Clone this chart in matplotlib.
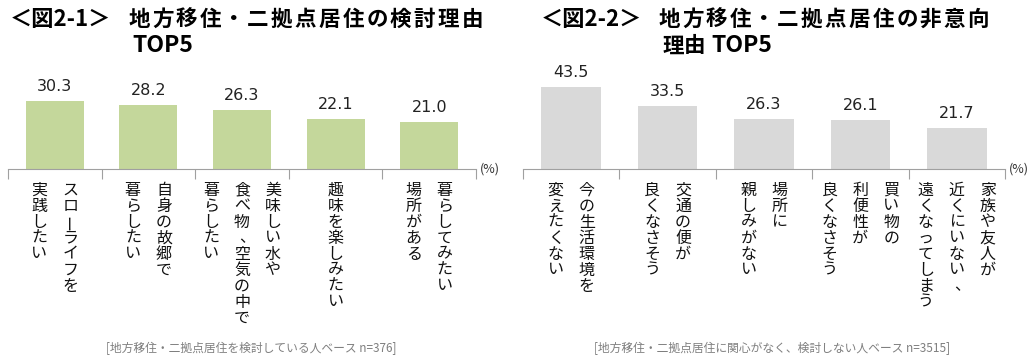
import numpy as np
import matplotlib
matplotlib.use("Agg")
import matplotlib.pyplot as plt

plt.rcParams['font.family'] = ['Noto Sans CJK JP', 'DejaVu Sans']

# Data
left_prefix = "＜図2-1＞"
left_title1 = "地方移住・二拠点居住の検討理由"
left_title2 = ["", "TOP5"]
left_values = [30.3, 28.2, 26.3, 22.1, 21.0]
left_labels = [
    ["スローライフを", "実践したい"],
    ["自身の故郷で", "暮らしたい"],
    ["美味しい水や", "食べ物、空気の中で", "暮らしたい"],
    ["趣味を楽しみたい"],
    ["暮らしてみたい", "場所がある"],
]
left_note = "[地方移住・二拠点居住を検討している人ベース n=376]"

right_prefix = "＜図2-2＞"
right_title1 = "地方移住・二拠点居住の非意向"
right_title2 = ["理由", "TOP5"]
right_values = [43.5, 33.5, 26.3, 26.1, 21.7]
right_labels = [
    ["今の生活環境を", "変えたくない"],
    ["交通の便が", "良くなさそう"],
    ["場所に", "親しみがない"],
    ["買い物の", "利便性が", "良くなさそう"],
    ["家族や友人が", "近くにいない、", "遠くなってしまう"],
]
right_note = "[地方移住・二拠点居住に関心がなく、検討しない人ベース n=3515]"

W, H = 1032, 356
fig = plt.figure(figsize=(W / 100, H / 100), dpi=100)


def vertical_labels(ax, labels):
    col_gap = 31
    pitch = 16
    for i, cols in enumerate(labels):
        n = len(cols)
        for j, col in enumerate(cols):
            dx = (n - 1) / 2 * col_gap - j * col_gap
            for k, ch in enumerate(col):
                x_off, y_off, rot = dx, -21 - k * pitch, 0
                if ch == "ー":
                    rot = 90
                elif ch == "、":
                    x_off += 5
                ax.annotate(ch, xy=(i, 0), xycoords="data",
                            xytext=(x_off, y_off), textcoords="offset pixels",
                            ha="center", va="center", fontsize=11.5,
                            rotation=rot, color="#111111", annotation_clip=False)


def spaced_text(x0, y, s, pitch, size=15.5):
    # draw full-width title characters one by one with wider spacing
    for k, ch in enumerate(s):
        fig.text((x0 + pitch / 2 + k * pitch) / W, 1 - y / H, ch, fontsize=size,
                 fontweight="bold", ha="center", va="center")


def panel(rect, values, labels, color, ymax, prefix, t1, t2, tx, bx, t2x, note, note_x):
    ax = fig.add_axes(rect)
    x = np.arange(len(values))
    ax.bar(x, values, width=0.62, color=color)
    ax.set_xlim(-0.5, len(values) - 0.5)
    ax.set_ylim(0, ymax)
    for s in ["top", "right", "left"]:
        ax.spines[s].set_visible(False)
    ax.spines["bottom"].set_color("#a0a0a0")
    ax.set_yticks([])
    ax.set_xticks(np.arange(-0.5, len(values), 1))
    ax.set_xticklabels([])
    ax.tick_params(axis="x", length=7, color="#a0a0a0", direction="out")
    for xi, v in zip(x, values):
        ax.annotate(f"{v:.1f}", xy=(xi, v), xytext=(0, 7), textcoords="offset pixels",
                    ha="center", va="bottom", fontsize=11.5, color="#222222",
                    family="DejaVu Sans")
    ax.annotate("(%)", xy=(1, 0), xycoords="axes fraction", xytext=(4, 0),
                textcoords="offset pixels", ha="left", va="center", fontsize=9,
                color="#333333", annotation_clip=False)
    vertical_labels(ax, labels)
    fig.text(tx / W, 1 - 19 / H, prefix, fontsize=16, fontweight="bold", ha="left", va="center")
    spaced_text(bx, 19, t1, 23.8)
    spaced_text(t2x, 46, t2[0], 21)
    fig.text((t2x + 21 * len(t2[0]) + (6 if t2[0] else 0)) / W, 1 - 46 / H, t2[1],
             fontsize=16.5, fontweight="bold", ha="left", va="center")
    fig.text(note_x / W, 1 - 348 / H, note, fontsize=8.5, color="#7f7f7f", ha="center", va="center")
    return ax


panel([8 / W, 187 / H, 468 / W, 110 / H], left_values, left_labels, "#c4d79b", 48.8,
      left_prefix, left_title1, left_title2, 10, 127, 132, left_note, 251)
panel([523 / W, 187 / H, 482 / W, 110 / H], right_values, right_labels, "#d9d9d9", 58.2,
      right_prefix, right_title1, right_title2, 541, 657, 663, right_note, 772)

fig.savefig("out.png", dpi=100)
